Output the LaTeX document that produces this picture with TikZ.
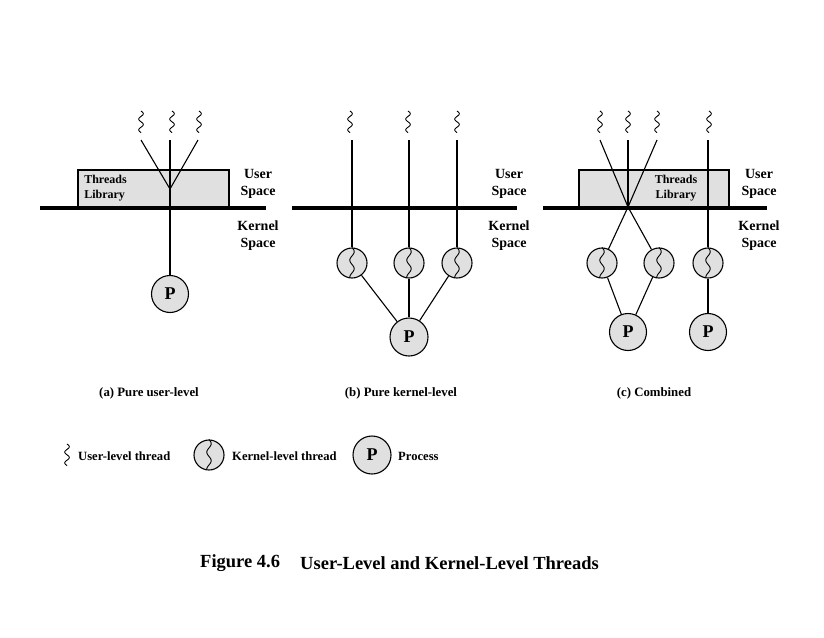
\documentclass[tikz,border=0pt]{standalone}
\usepackage{fontspec}
\setmainfont{Liberation Serif}
\begin{document}
\begin{tikzpicture}[x=1pt,y=-1pt,
  thr/.style={line width=1.1pt},
  bar/.style={line width=4pt},
  lib/.style={draw,line width=1.1pt,fill=black!12,inner sep=0pt},
  kth/.style={circle,draw,line width=1.1pt,fill=black!12,minimum size=30pt,inner sep=0pt},
  proc/.style={circle,draw,line width=1.1pt,fill=black!12,minimum size=37pt,inner sep=0pt,font=\bfseries\fontsize{18}{18}\selectfont},
  spc/.style={align=center,font=\bfseries\fontsize{14}{17}\selectfont},
  libtxt/.style={align=left,font=\bfseries\fontsize{12}{15}\selectfont},
  captxt/.style={font=\bfseries\fontsize{12.8}{14}\selectfont},
  leg/.style={anchor=west,font=\bfseries\fontsize{12.6}{14}\selectfont},
  squig/.pic={\draw[line width=0.9pt] plot[domain=0:21.6,samples=41,smooth] ({2.3*sin(\x*360/10.8)},\x);}
]
\useasboundingbox (0,0) rectangle (824,637);
\newcommand{\ksq}[1]{\draw[line width=0.9pt,shift={(#1.north)}] plot[domain=0:30,samples=41,smooth] ({2.2*sin(\x*360/17)},\x);}

% ---------- (a) ----------
\node[lib,minimum width=151pt,minimum height=37pt] (libA) at (153.5,188.5) {};
\node[libtxt] (libtA) at (105.5,188) {Threads\\Library};
\draw[bar] (40,208) -- (266,208);
\node[spc] (usA) at (258,184) {User\\Space};
\node[spc] (ksA) at (258,236) {Kernel\\Space};
\pic at (141,111) {squig};
\pic at (172,111) {squig};
\pic at (199,111) {squig};
\coordinate (tA1) at (141,140);
\coordinate (tA2) at (170,140);
\coordinate (tA3) at (198,140);
\coordinate (vA) at (170,189);
\node[proc] (pA) at (170,294) {P};
\draw[thr] (tA1) -- (vA) -- (tA3);
\draw[thr] (tA2) -- (pA);
\node[captxt] (capA) at (149,393) {(a) Pure user-level};

% ---------- (b) ----------
\draw[bar] (292,208) -- (517,208);
\node[spc] (usB) at (509,184) {User\\Space};
\node[spc] (ksB) at (509,236) {Kernel\\Space};
\node[kth] (kB1) at (352,263) {};
\node[kth] (kB2) at (409,263) {};
\node[kth] (kB3) at (457,263) {};
\ksq{kB1}\ksq{kB2}\ksq{kB3}
\pic at (350,111) {squig};
\pic at (408,111) {squig};
\pic at (457,111) {squig};
\coordinate (tB1) at (352,140);
\coordinate (tB2) at (409,140);
\coordinate (tB3) at (457,140);
\node[proc,minimum size=38pt] (pB) at (409,337) {P};
\draw[thr] (tB1) -- (kB1.north);
\draw[thr] (tB2) -- (kB2.north);
\draw[thr] (tB3) -- (kB3.north);
\draw[thr] (kB1) -- (pB);
\draw[thr] (kB2) -- (pB);
\draw[thr] (kB3) -- (pB);
\node[captxt] (capB) at (401,393) {(b) Pure kernel-level};

% ---------- (c) ----------
\node[lib,minimum width=150pt,minimum height=37pt] (libC) at (654,188.5) {};
\node[libtxt,align=center] (libtC) at (676,188) {Threads\\Library};
\draw[bar] (543,208) -- (767,208);
\node[spc] (usC) at (759,184) {User\\Space};
\node[spc] (ksC) at (759,236) {Kernel\\Space};
\node[kth] (kC1) at (602,263) {};
\node[kth] (kC2) at (659,263) {};
\node[kth] (kC3) at (708,263) {};
\ksq{kC1}\ksq{kC2}\ksq{kC3}
\pic at (600,111) {squig};
\pic at (628,111) {squig};
\pic at (657,111) {squig};
\pic at (709,111) {squig};
\coordinate (tC1) at (600,140);
\coordinate (tC2) at (628,140);
\coordinate (tC3) at (657,140);
\coordinate (tC4) at (708,140);
\coordinate (xC) at (628,207);
\node[proc] (pC1) at (628,332) {P};
\node[proc] (pC2) at (708,332) {P};
\draw[thr] (tC1) -- (xC) -- (kC2);
\draw[thr] (tC3) -- (xC) -- (kC1);
\draw[thr] (tC2) -- (xC);
\draw[thr] (tC4) -- (kC3.north);
\draw[thr] (kC1) -- (pC1);
\draw[thr] (kC2) -- (pC1);
\draw[thr] (kC3) -- (pC2);
\node[captxt] (capC) at (654,393) {(c) Combined};

% ---------- legend ----------
\pic at (67,444) {squig};
\node[leg] (lg1) at (74.7,456) {User-level thread};
\node[kth] (lgk) at (209,455) {};
\ksq{lgk}
\node[leg] (lg2) at (228.7,456) {Kernel-level thread};
\node[proc,minimum size=38pt] (lgp) at (372,455) {P};
\node[leg] (lg3) at (394.7,456) {Process};

% ---------- title ----------
\node[anchor=west,font=\bfseries\fontsize{18.5}{20}\selectfont] (fig) at (196.7,563) {Figure 4.6};
\node[anchor=west,font=\bfseries\fontsize{18.5}{20}\selectfont] (ttl) at (296.7,563) {User-Level and Kernel-Level Threads};
\end{tikzpicture}
\end{document}
